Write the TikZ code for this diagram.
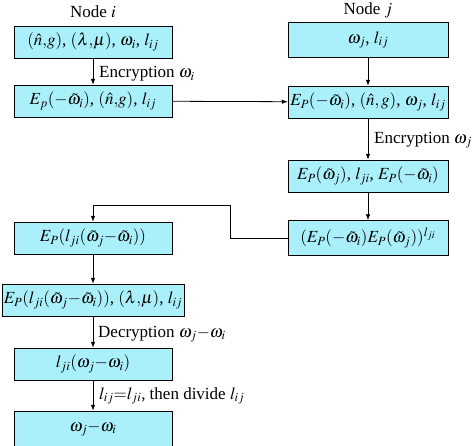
\documentclass[tikz,border=0pt]{standalone}
\usepackage{mathptmx}
\usepackage[no-math]{fontspec}
\setmainfont{Liberation Serif}
\usetikzlibrary{arrows.meta}
\definecolor{boxfill}{RGB}{170,240,250}
\tikzset{
  stepbox/.style={draw, fill=boxfill, minimum width=158pt, minimum height=32pt, inner sep=2pt},
  flow/.style={draw, thick, -{Latex[length=6pt,width=4.5pt]}},
  note/.style={anchor=west, inner sep=0pt},
}
\begin{document}
\begin{tikzpicture}[x=1pt, y=-1pt, font=\fontsize{17}{19}\selectfont]
\useasboundingbox (0,0) rectangle (474,446);
\node (ni) at (93,12) {Node $i$};
\node (nj) at (368,10) {Node $j$};

% node i
\node[stepbox] (i1) at (93,42) {$(\hat{n}{,}g)$, $(\lambda{,}\mu)$, $\omega_i$, $l_{ij}$};
\node[stepbox] (i2) at (93,101) {$E_p({-}\tilde{\omega}_i)$, $(\hat{n}{,}g)$, $l_{ij}$};
\node[stepbox] (i3) at (93,238) {$E_P(l_{ji}(\tilde{\omega}_j{-}\tilde{\omega}_i))$};
\node[stepbox, minimum width=180pt] (i4) at (93,300) {$E_P(l_{ji}(\tilde{\omega}_j{-}\tilde{\omega}_i))$, $(\lambda{,}\mu)$, $l_{ij}$};
\node[stepbox] (i5) at (93,364) {$l_{ji}(\omega_j{-}\omega_i)$};
\node[stepbox, minimum height=36pt] (i6) at (93,429) {$\omega_j{-}\omega_i$};

% node j
\node[stepbox, minimum width=160pt, minimum height=35pt] (j1) at (368,40) {$\omega_j$, $l_{ij}$};
\node[stepbox, minimum width=160pt] (j2) at (368,102) {$E_P({-}\tilde{\omega}_i)$, $(\hat{n}, g)$, $\omega_j$, $l_{ij}$};
\node[stepbox, minimum width=160pt] (j3) at (368,176) {$E_P(\tilde{\omega}_j)$, $l_{ji}$, $E_P({-}\tilde{\omega}_i)$};
\node[stepbox, minimum width=160pt, minimum height=35pt] (j4) at (368,238) {$(E_P({-}\tilde{\omega}_i)E_P(\tilde{\omega}_j))^{l_{ji}}$};

\coordinate (turn) at (230,205);

\path[flow] (i1) -- (i2);
\path[flow] (i2) -- (j2);
\path[flow] (j1) -- (j2);
\path[flow] (j2) -- (j3);
\path[flow] (j3) -- (j4);
\path[flow] (j4.west) -| (turn) -| (i3.north);
\path[flow] (i3) -- (i4);
\path[flow] (i4) -- (i5);
\path[flow] (i5) -- (i6);

\node[note] (enci) at (99,74) {Encryption $\omega_i$};
\node[note] (encj) at (374,140) {Encryption $\omega_j$};
\node[note] (dec) at (98,334) {Decryption $\omega_j{-}\omega_i$};
\node[note] (div) at (99,396) {$l_{ij}{=}l_{ji}$, then divide $l_{ij}$};
\end{tikzpicture}
\end{document}
